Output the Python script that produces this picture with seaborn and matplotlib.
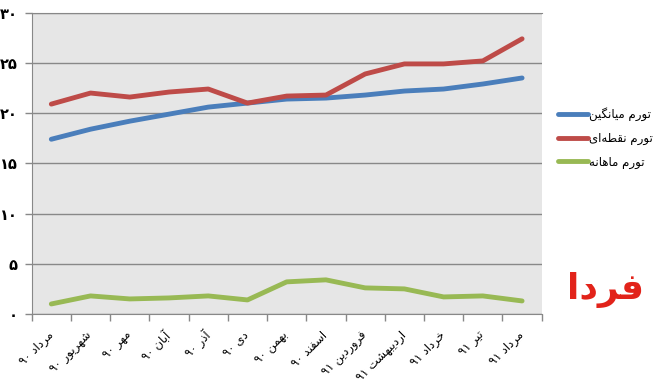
import numpy as np
import pandas as pd
import matplotlib
matplotlib.use('Agg')
import matplotlib.pyplot as plt
import seaborn as sns

months = ['مرداد ۹۰', 'شهریور ۹۰', 'مهر ۹۰', 'آبان ۹۰', 'آذر ۹۰', 'دی ۹۰', 'بهمن ۹۰',
          'اسفند ۹۰', 'فروردین ۹۱', 'اردیبهشت ۹۱', 'خرداد ۹۱', 'تیر ۹۱', 'مرداد ۹۱']
avg_infl = [17.4, 18.4, 19.2, 19.9, 20.6, 21.0, 21.4, 21.5, 21.8, 22.2, 22.4, 22.9, 23.5]
point_infl = [20.9, 22.0, 21.6, 22.1, 22.4, 21.0, 21.7, 21.8, 23.9, 24.9, 24.9, 25.2, 27.4]
monthly_infl = [1.0, 1.8, 1.5, 1.6, 1.8, 1.4, 3.2, 3.4, 2.6, 2.5, 1.7, 1.8, 1.3]
series_names = ['تورم میانگین', 'تورم نقطه‌ای', 'تورم ماهانه']
ytick_labels = ['۰', '۵', '۱۰', '۱۵', '۲۰', '۲۵', '۳۰']
logo_text = 'فردا'

pal = ['#4a7ebb', '#be4b48', '#98b954']

# presentation forms: isolated, final, initial, medial (None -> does not join forward)
FORMS = {
    '\u0627': ('\uFE8D', '\uFE8E', None, None),
    '\u0622': ('\uFE81', '\uFE82', None, None),
    '\u0628': ('\uFE8F', '\uFE90', '\uFE91', '\uFE92'),
    '\u062A': ('\uFE95', '\uFE96', '\uFE97', '\uFE98'),
    '\u062E': ('\uFEA5', '\uFEA6', '\uFEA7', '\uFEA8'),
    '\u062F': ('\uFEA9', '\uFEAA', None, None),
    '\u0630': ('\uFEAB', '\uFEAC', None, None),
    '\u0631': ('\uFEAD', '\uFEAE', None, None),
    '\u0633': ('\uFEB1', '\uFEB2', '\uFEB3', '\uFEB4'),
    '\u0634': ('\uFEB5', '\uFEB6', '\uFEB7', '\uFEB8'),
    '\u0637': ('\uFEC1', '\uFEC2', '\uFEC3', '\uFEC4'),
    '\u0641': ('\uFED1', '\uFED2', '\uFED3', '\uFED4'),
    '\u0642': ('\uFED5', '\uFED6', '\uFED7', '\uFED8'),
    '\u0645': ('\uFEE1', '\uFEE2', '\uFEE3', '\uFEE4'),
    '\u0646': ('\uFEE5', '\uFEE6', '\uFEE7', '\uFEE8'),
    '\u0647': ('\uFEE9', '\uFEEA', '\uFEEB', '\uFEEC'),
    '\u0648': ('\uFEED', '\uFEEE', None, None),
    '\u06CC': ('\uFBFC', '\uFBFD', '\uFBFE', '\uFBFF'),
    '\u06AF': ('\uFB92', '\uFB93', '\uFB94', '\uFB95'),
}


def shape_word(w):
    out = []
    for i, c in enumerate(w):
        if c not in FORMS:
            if c != '\u200c':
                out.append(c)
            continue
        prev = w[i-1] if i > 0 else None
        nxt = w[i+1] if i < len(w)-1 else None
        jp = prev in FORMS and FORMS[prev][2] is not None
        jn = FORMS[c][2] is not None and nxt in FORMS
        iso, fin, ini, med = FORMS[c]
        out.append(med if (jp and jn) else fin if jp else ini if jn else iso)
    return ''.join(out)


def rtl(s):
    # matplotlib has no bidi/shaping, so do it by hand
    toks = []
    for t in s.split(' '):
        if any(ch in FORMS for ch in t):
            toks.append(shape_word(t)[::-1])
        else:
            toks.append(t)
    return ' '.join(toks[::-1])


df = pd.DataFrame({'pos': list(range(len(months))) * 3,
                   'value': avg_infl + point_infl + monthly_infl,
                   'series': [rtl(n) for n in series_names for _ in months]})

plt.rcParams['font.family'] = ['DejaVu Sans']
fig = plt.figure(figsize=(6.65, 3.92), dpi=100)
ax = fig.add_axes([31.7/665, 1-314/392, 510/665, 301.3/392])
ax.set_facecolor('#e6e6e6')

sns.lineplot(data=df, x='pos', y='value', hue='series', palette=pal, linewidth=3.5,
             ax=ax, legend=True)
for ln in ax.lines:
    ln.set_solid_capstyle('round')
    ln.set_solid_joinstyle('round')

gc = '#888888'
ax.set_xlim(-0.5, len(months)-0.5)
ax.set_ylim(0, 30)
ax.set_yticks(np.arange(0, 31, 5))
ax.set_yticklabels(ytick_labels, fontsize=10.5, fontweight='bold')
ax.yaxis.grid(True, color=gc, lw=1)
ax.set_axisbelow(True)
ax.tick_params(axis='y', length=5, width=1, color=gc, pad=5)

ax.set_xticks(np.arange(len(months)))
ax.set_xticklabels([rtl(m) for m in months], rotation=45, ha='right', va='center',
                   rotation_mode='anchor', fontsize=8.5)
ax.set_xticks(np.arange(-0.5, len(months)), minor=True)
ax.tick_params(axis='x', which='major', length=0, pad=14)
ax.tick_params(axis='x', which='minor', length=5, width=1, color=gc)
ax.set_xlabel('')
ax.set_ylabel('')
for s in ['left', 'bottom', 'top']:
    ax.spines[s].set_color(gc)
ax.spines['right'].set_visible(False)

h, l = ax.get_legend_handles_labels()
ax.legend(h, l, loc='center left', bbox_to_anchor=(558/665, 1-138/392),
          bbox_transform=fig.transFigure, frameon=False, fontsize=8.5,
          handlelength=2.5, handletextpad=0.15, labelspacing=0.9,
          borderpad=0, borderaxespad=0)

fig.text(606/665, 1-290/392, rtl(logo_text), color='#e2231a', fontsize=26,
         fontweight='bold', ha='center', va='center')

fig.savefig('out.png', dpi=100)
